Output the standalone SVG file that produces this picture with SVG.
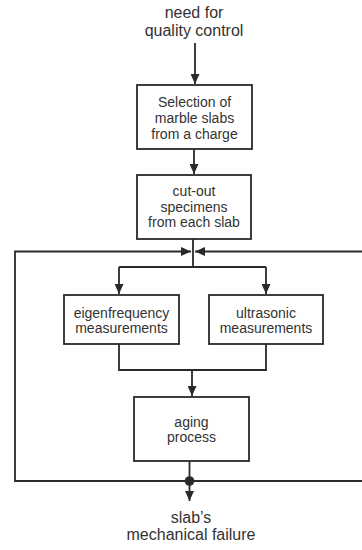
<svg xmlns="http://www.w3.org/2000/svg" width="362" height="550" viewBox="0 0 362 550">
<style>
.box{fill:#fff;stroke:#2a2a2a;stroke-width:1.8}
.ln{fill:none;stroke:#2a2a2a;stroke-width:1.8}
.t{font-family:"Liberation Sans",Arial,sans-serif;font-size:14px;fill:#333;text-anchor:middle}
.t2{font-family:"Liberation Sans",Arial,sans-serif;font-size:16px;fill:#333;text-anchor:middle}
</style>
<defs>
<marker id="ah" markerUnits="userSpaceOnUse" markerWidth="10" markerHeight="9" refX="10" refY="4.5" orient="auto">
<path d="M0,0 L10,4.5 L0,9 z" fill="#2a2a2a"/>
</marker>
</defs>
<rect width="362" height="550" fill="#fff"/>
<g id="connectors">
<line class="ln" x1="195" y1="43" x2="195" y2="84" marker-end="url(#ah)"/>
<line class="ln" x1="194" y1="149" x2="194" y2="174" marker-end="url(#ah)"/>
<line class="ln" x1="193" y1="239" x2="193" y2="267"/>
<path class="ln" d="M362,481 H15 V251.5 H191" marker-end="url(#ah)"/>
<path class="ln" d="M362,251.5 H195" marker-end="url(#ah)"/>
<path class="ln" d="M119,267 H266"/>
<line class="ln" x1="119" y1="267" x2="119" y2="294" marker-end="url(#ah)"/>
<line class="ln" x1="266" y1="267" x2="266" y2="294" marker-end="url(#ah)"/>
<path class="ln" d="M119,344 V370 H266 V344"/>
<line class="ln" x1="192" y1="370" x2="192" y2="396" marker-end="url(#ah)"/>
<line class="ln" x1="189.5" y1="461" x2="189.5" y2="501" marker-end="url(#ah)"/>
<circle cx="189.5" cy="481" r="4.8" fill="#2a2a2a"/>
</g>
<g id="start">
<text class="t2" x="194" y="18">need for</text>
<text class="t2" x="194" y="36">quality control</text>
</g>
<g id="selection">
<rect class="box" x="137" y="85" width="115" height="64"/>
<text class="t" x="194.5" y="107">Selection of</text>
<text class="t" x="194.5" y="123">marble slabs</text>
<text class="t" x="194.5" y="138.5">from a charge</text>
</g>
<g id="cutout">
<rect class="box" x="137" y="175" width="114" height="64"/>
<text class="t" x="194" y="196">cut-out</text>
<text class="t" x="194" y="211.5">specimens</text>
<text class="t" x="194" y="227">from each slab</text>
</g>
<g id="eigen">
<rect class="box" x="64" y="295" width="115" height="49"/>
<text class="t" x="121.5" y="317.5">eigenfrequency</text>
<text class="t" x="121.5" y="333">measurements</text>
</g>
<g id="ultra">
<rect class="box" x="209" y="295" width="114" height="49"/>
<text class="t" x="266" y="317.5">ultrasonic</text>
<text class="t" x="266" y="333">measurements</text>
</g>
<g id="aging">
<rect class="box" x="134" y="397" width="115" height="64"/>
<text class="t" x="191.5" y="427">aging</text>
<text class="t" x="191.5" y="442">process</text>
</g>
<g id="end">
<text class="t2" x="191" y="523">slab’s</text>
<text class="t2" x="191" y="540">mechanical failure</text>
</g>
</svg>
